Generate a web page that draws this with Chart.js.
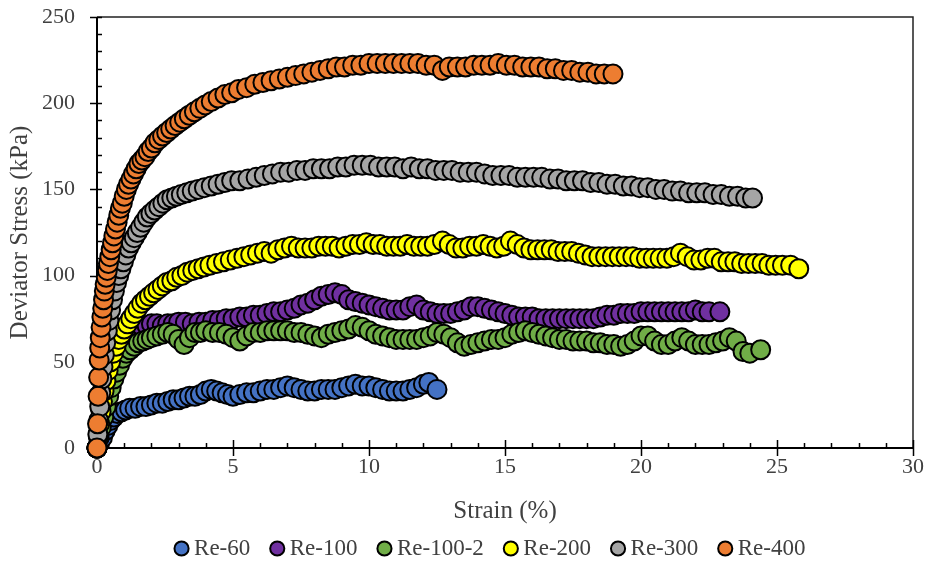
<!DOCTYPE html>
<html>
<head>
<meta charset="utf-8">
<script src="https://cdn.jsdelivr.net/npm/chart.js@4.4.1/dist/chart.umd.min.js"></script>
<style>
  html, body { margin: 0; padding: 0; background: #ffffff; }
  #wrap { width: 930px; height: 565px; position: relative; }
</style>
</head>
<body>
<div id="wrap"><canvas id="c" width="930" height="565"></canvas></div>
<script>
// ---- Data (strain %, deviator stress kPa) ----
const seriesNames = ["Re-60", "Re-100", "Re-100-2", "Re-200", "Re-300", "Re-400"];

const re60 = [[0,0],[0.1,3],[0.2,6],[0.3,10],[0.4,13],[0.5,16],[0.62,18],[0.75,20],[0.9,21],[1.05,22],[1.2,23],[1.4,23],[1.6,24],[1.8,24],[2.0,25],[2.2,26],[2.4,26],[2.6,27],[2.8,28],[3.0,28],[3.2,29],[3.4,30],[3.6,30],[3.8,31],[4.0,33],[4.2,34],[4.4,33],[4.6,32],[4.8,31],[5.0,30],[5.25,31],[5.5,32],[5.75,32],[6.0,33],[6.25,34],[6.5,34],[6.75,35],[7.0,36],[7.25,35],[7.5,34],[7.75,33],[8.0,33],[8.25,34],[8.5,34],[8.75,34],[9.0,35],[9.25,36],[9.5,37],[9.75,36],[10.0,36],[10.25,35],[10.5,34],[10.75,33],[11.0,33],[11.25,33],[11.5,34],[11.75,35],[12.0,37],[12.2,38],[12.5,34]];

const re100 = [[0,0],[0.06,6],[0.12,12],[0.18,18],[0.25,24],[0.32,30],[0.4,35],[0.5,40],[0.6,44],[0.72,49],[0.84,53],[0.97,57],[1.1,60],[1.24,63],[1.38,66],[1.53,68],[1.68,70],[1.84,71],[2.0,72],[2.2,72],[2.4,71],[2.6,72],[2.8,72],[3.0,73],[3.25,73],[3.5,72],[3.75,73],[4.0,73],[4.25,74],[4.5,74],[4.75,75],[5.0,75],[5.25,76],[5.5,76],[5.75,77],[6.0,77],[6.25,78],[6.5,79],[6.75,79],[7.0,80],[7.25,81],[7.5,83],[7.75,84],[8.0,86],[8.25,88],[8.5,89],[8.75,90],[9.0,89],[9.25,86],[9.5,85],[9.75,84],[10.0,83],[10.25,82],[10.5,81],[10.75,80],[11.0,80],[11.25,80],[11.5,82],[11.75,83],[12.0,80],[12.25,79],[12.5,78],[12.75,78],[13.0,78],[13.25,79],[13.5,80],[13.75,82],[14.0,82],[14.25,81],[14.5,80],[14.75,79],[15.0,78],[15.25,77],[15.5,76],[15.75,76],[16.0,76],[16.25,75],[16.5,75],[16.75,75],[17.0,75],[17.25,75],[17.5,75],[17.75,75],[18.0,75],[18.25,75],[18.5,76],[18.75,77],[19.0,77],[19.25,78],[19.5,78],[19.75,78],[20.0,79],[20.25,79],[20.5,79],[20.75,79],[21.0,79],[21.25,79],[21.5,79],[21.75,79],[22.0,80],[22.25,79],[22.5,79],[22.9,79]];

const re100b = [[0,0],[0.08,6],[0.16,12],[0.25,18],[0.34,24],[0.43,30],[0.52,35],[0.62,40],[0.72,44],[0.83,48],[0.95,52],[1.08,55],[1.22,57],[1.37,59],[1.52,61],[1.68,62],[1.84,63],[2.0,64],[2.2,65],[2.4,66],[2.6,67],[2.8,66],[3.0,63],[3.2,60],[3.4,64],[3.6,67],[3.8,67],[4.0,68],[4.25,67],[4.5,67],[4.75,66],[5.0,64],[5.25,62],[5.5,65],[5.75,67],[6.0,67],[6.25,68],[6.5,68],[6.75,68],[7.0,68],[7.25,67],[7.5,67],[7.75,66],[8.0,65],[8.25,64],[8.5,66],[8.75,67],[9.0,68],[9.25,69],[9.5,71],[9.75,70],[10.0,68],[10.25,66],[10.5,65],[10.75,64],[11.0,63],[11.25,63],[11.5,63],[11.75,63],[12.0,64],[12.25,65],[12.5,67],[12.75,66],[13.0,64],[13.25,61],[13.5,59],[13.75,60],[14.0,61],[14.25,62],[14.5,63],[14.75,63],[15.0,64],[15.25,66],[15.5,67],[15.75,68],[16.0,67],[16.25,66],[16.5,65],[16.75,64],[17.0,63],[17.25,63],[17.5,62],[17.75,62],[18.0,62],[18.25,61],[18.5,61],[18.75,60],[19.0,60],[19.25,59],[19.5,60],[19.75,62],[20.0,65],[20.25,65],[20.5,62],[20.75,60],[21.0,60],[21.25,62],[21.5,64],[21.75,62],[22.0,60],[22.25,60],[22.5,60],[22.75,61],[23.0,62],[23.25,64],[23.5,62],[23.75,56],[24.0,55],[24.4,57]];

const re200 = [[0,0],[0.05,7],[0.1,14],[0.15,21],[0.2,27],[0.26,33],[0.33,39],[0.41,45],[0.5,50],[0.6,55],[0.7,59],[0.8,63],[0.9,66],[1.0,69],[1.12,72],[1.24,75],[1.37,78],[1.5,81],[1.64,84],[1.78,86],[1.93,88],[2.08,90],[2.24,92],[2.4,94],[2.57,96],[2.75,97],[2.93,99],[3.12,100],[3.32,102],[3.52,103],[3.72,104],[3.93,105],[4.15,106],[4.4,107],[4.65,108],[4.9,109],[5.15,110],[5.4,111],[5.65,112],[5.9,113],[6.15,114],[6.4,113],[6.65,115],[6.9,116],[7.15,117],[7.4,116],[7.65,116],[7.9,116],[8.15,117],[8.4,117],[8.65,117],[8.9,116],[9.15,117],[9.4,118],[9.65,118],[9.9,119],[10.15,118],[10.4,118],[10.65,117],[10.9,117],[11.15,117],[11.4,118],[11.65,117],[11.9,117],[12.15,117],[12.4,118],[12.7,120],[12.95,118],[13.2,116],[13.45,116],[13.7,117],[13.95,117],[14.2,118],[14.45,117],[14.7,116],[14.95,117],[15.2,120],[15.45,118],[15.7,116],[15.95,115],[16.2,115],[16.45,115],[16.7,115],[16.95,114],[17.2,114],[17.45,114],[17.7,113],[17.95,112],[18.2,111],[18.45,111],[18.7,111],[18.95,111],[19.2,111],[19.45,111],[19.7,111],[19.95,110],[20.2,110],[20.45,110],[20.7,110],[20.95,110],[21.2,111],[21.45,113],[21.7,111],[21.95,109],[22.2,109],[22.45,110],[22.7,110],[22.95,108],[23.2,108],[23.45,108],[23.7,107],[23.95,107],[24.2,107],[24.45,107],[24.7,106],[24.95,106],[25.2,106],[25.5,106],[25.8,104]];

const re300 = [[0,0],[0.03,8],[0.06,16],[0.1,24],[0.14,32],[0.18,40],[0.22,47],[0.27,54],[0.32,61],[0.38,68],[0.44,74],[0.5,80],[0.57,86],[0.64,91],[0.72,96],[0.8,100],[0.88,104],[0.97,108],[1.06,112],[1.16,116],[1.26,119],[1.37,122],[1.48,125],[1.6,128],[1.72,131],[1.85,134],[1.98,136],[2.12,138],[2.27,140],[2.42,142],[2.58,144],[2.75,145],[2.92,146],[3.1,147],[3.3,148],[3.5,149],[3.72,150],[3.95,151],[4.2,152],[4.45,153],[4.7,154],[4.95,155],[5.25,155],[5.55,156],[5.85,157],[6.15,158],[6.45,159],[6.75,160],[7.05,160],[7.35,161],[7.65,161],[7.95,162],[8.25,162],[8.55,162],[8.85,163],[9.15,163],[9.45,164],[9.75,164],[10.05,164],[10.35,163],[10.65,163],[10.95,163],[11.25,162],[11.55,163],[11.85,162],[12.15,162],[12.45,161],[12.75,161],[13.05,161],[13.35,160],[13.65,160],[13.95,160],[14.25,159],[14.55,158],[14.85,158],[15.15,158],[15.45,157],[15.75,157],[16.05,157],[16.35,157],[16.65,156],[16.95,156],[17.25,155],[17.55,155],[17.85,155],[18.15,154],[18.45,154],[18.75,153],[19.05,153],[19.35,152],[19.65,152],[19.95,151],[20.25,151],[20.55,150],[20.85,150],[21.15,149],[21.45,149],[21.75,148],[22.05,148],[22.35,148],[22.65,147],[22.95,147],[23.25,146],[23.55,146],[23.85,145],[24.1,145]];

const re400 = [[0,0],[0.02,14],[0.04,30],[0.06,41],[0.08,51],[0.1,58],[0.12,64],[0.15,70],[0.18,76],[0.21,81],[0.24,86],[0.27,91],[0.3,95],[0.34,99],[0.38,103],[0.42,107],[0.47,111],[0.52,115],[0.57,119],[0.62,123],[0.68,127],[0.74,131],[0.8,135],[0.86,139],[0.93,142],[1.0,146],[1.08,150],[1.16,153],[1.25,156],[1.34,159],[1.44,162],[1.54,165],[1.65,167],[1.76,169],[1.88,172],[2.0,174],[2.13,177],[2.27,179],[2.41,181],[2.56,183],[2.71,185],[2.87,187],[3.04,189],[3.21,191],[3.39,193],[3.58,195],[3.78,197],[3.98,199],[4.2,201],[4.45,203],[4.7,205],[4.95,206],[5.2,208],[5.5,209],[5.8,211],[6.1,212],[6.4,213],[6.7,214],[7.0,215],[7.3,216],[7.6,217],[7.9,218],[8.2,219],[8.5,220],[8.8,221],[9.1,221],[9.4,222],[9.7,222],[10.0,223],[10.3,223],[10.6,223],[10.9,223],[11.2,223],[11.5,223],[11.8,223],[12.1,222],[12.4,222],[12.7,219],[12.95,221],[13.25,221],[13.55,221],[13.85,222],[14.15,222],[14.45,222],[14.75,223],[15.05,222],[15.35,222],[15.65,221],[15.95,221],[16.25,221],[16.55,220],[16.85,220],[17.15,219],[17.45,219],[17.75,218],[18.05,218],[18.35,217],[18.65,217],[18.97,217]];

const xTickLabels = ["0", "5", "10", "15", "20", "25", "30"];
const yTickLabels = ["0", "50", "100", "150", "200", "250"];

// ---- Styling ----
const seriesData = [re60, re100, re100b, re200, re300, re400];
const fillColors = ["#4472C4", "#7030A0", "#70AD47", "#FFFF00", "#A5A5A5", "#ED7D31"];
const FONT = "'Liberation Serif', 'Times New Roman', serif";
const TEXT = "#404040";

Chart.defaults.font.family = FONT;
Chart.defaults.color = TEXT;

const datasets = seriesNames.map((name, i) => ({
  label: name,
  data: seriesData[i].map(p => ({ x: p[0], y: p[1] })),
  backgroundColor: fillColors[i],
  borderColor: "#000000",
  borderWidth: 2,
  pointRadius: 9.5,
  pointHoverRadius: 9.5,
  pointStyle: "circle",
  showLine: false,
  clip: false,
  order: seriesNames.length - 1 - i
}));

// Axes frame + Excel-like tick marks (major cross, minor inside)
const framePlugin = {
  id: "frame",
  afterLayout(chart) {
    // nudge the legend row slightly left, as in the reference
    if (chart.legend) { chart.legend.left -= 12; chart.legend.right -= 12; }
  },
  beforeDatasetsDraw(chart) {
    const { ctx, chartArea: a, scales: { x, y } } = chart;
    ctx.save();
    ctx.strokeStyle = "#222222";
    ctx.lineWidth = 1.5;
    ctx.beginPath();
    ctx.moveTo(a.left, a.top); ctx.lineTo(a.right, a.top); ctx.lineTo(a.right, a.bottom);
    ctx.stroke();
    ctx.strokeStyle = "#000000";
    ctx.lineWidth = 1.5;
    ctx.beginPath();
    for (let v = x.min; v <= x.max + 1e-9; v += 1) {
      const px = Math.round(x.getPixelForValue(v)) + 0.5;
      const major = Math.abs(v % 5) < 1e-9;
      ctx.moveTo(px, a.bottom - (major ? 8 : 5));
      ctx.lineTo(px, a.bottom + (major ? 8 : 0));
    }
    for (let v = y.min; v <= y.max + 1e-9; v += 10) {
      const py = Math.round(y.getPixelForValue(v)) + 0.5;
      const major = Math.abs(v % 50) < 1e-9;
      ctx.moveTo(a.left - (major ? 7 : 0), py);
      ctx.lineTo(a.left + 5, py);
    }
    ctx.stroke();
    ctx.lineWidth = 2;
    ctx.beginPath();
    ctx.moveTo(a.left, a.top); ctx.lineTo(a.left, a.bottom); ctx.lineTo(a.right, a.bottom);
    ctx.stroke();
    ctx.restore();
  }
};

new Chart(document.getElementById("c"), {
  type: "scatter",
  data: { datasets },
  options: {
    responsive: false,
    animation: false,
    events: [],
    layout: { padding: { top: 17, right: 17, left: 0, bottom: 0 } },
    scales: {
      x: {
        type: "linear",
        min: 0, max: 30,
        grid: { display: false, drawTicks: false },
        border: { display: false },
        ticks: {
          stepSize: 5, padding: 6,
          font: { size: 22 }, color: TEXT,
          callback: (v) => xTickLabels[Math.round(v / 5)] ?? ""
        },
        title: {
          display: true, text: "Strain (%)",
          font: { size: 25 }, color: TEXT,
          padding: { top: 0, bottom: -15 }
        },
        afterFit(s) { s.height = 63; }
      },
      y: {
        type: "linear",
        min: 0, max: 250,
        grid: { display: false, drawTicks: true, tickLength: 20 },
        border: { display: false },
        ticks: {
          stepSize: 50, padding: 2,
          font: { size: 22 }, color: TEXT,
          callback: (v) => yTickLabels[Math.round(v / 50)] ?? ""
        },
        title: {
          display: true, text: "Deviator Stress (kPa)",
          font: { size: 25 }, color: TEXT,
          padding: { top: 5, bottom: 0 }
        },
        afterFit(s) { s.width = 97; }
      }
    },
    plugins: {
      tooltip: { enabled: false },
      legend: {
        display: true,
        position: "bottom",
        fullSize: false,
        maxHeight: 54,
        labels: {
          usePointStyle: true,
          pointStyle: "circle",
          boxHeight: 10,
          boxWidth: 2,
          padding: 26,
          color: TEXT,
          font: { size: 23 },
          sort: (a, b) => a.datasetIndex - b.datasetIndex
        }
      }
    }
  },
  plugins: [framePlugin]
});
</script>
</body>
</html>
